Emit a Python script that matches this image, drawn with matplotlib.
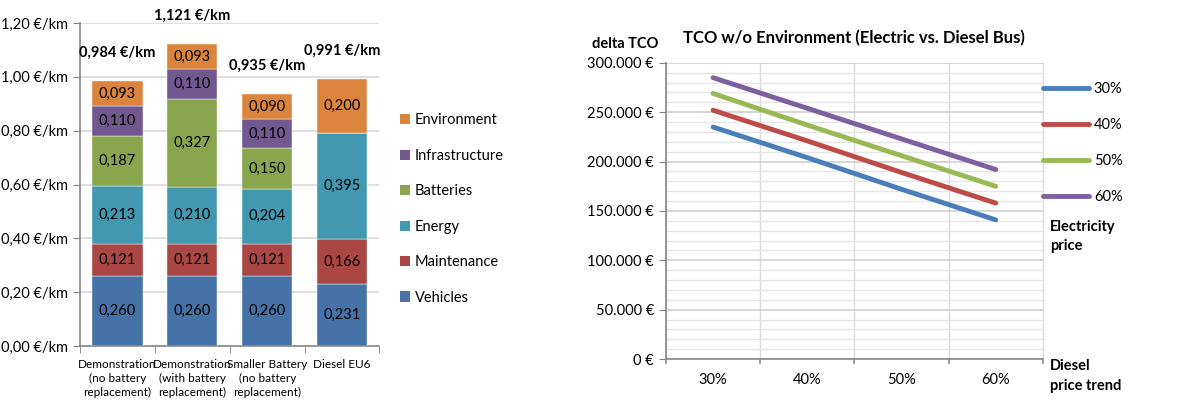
import matplotlib
matplotlib.use("Agg")
import matplotlib.pyplot as plt
import numpy as np
from matplotlib.ticker import MultipleLocator, FuncFormatter
from matplotlib.patches import Patch

plt.rcParams['font.family'] = ['Lato', 'DejaVu Sans']

# left chart data: cost per km by component
scenarios = ["Demonstration\n(no battery\nreplacement)",
             "Demonstration\n(with battery\nreplacement)",
             "Smaller Battery\n(no battery\nreplacement)",
             "Diesel EU6"]
components = ["Vehicles", "Maintenance", "Energy", "Batteries", "Infrastructure", "Environment"]
vehicles = [0.260, 0.260, 0.260, 0.231]
maintenance = [0.121, 0.121, 0.121, 0.166]
energy = [0.213, 0.210, 0.204, 0.395]
batteries = [0.187, 0.327, 0.150, 0.0]
infrastructure = [0.110, 0.110, 0.110, 0.0]
environment = [0.093, 0.093, 0.090, 0.200]
totals = [0.984, 1.121, 0.935, 0.991]

# right chart data: delta TCO by diesel price trend and electricity price
diesel_trend = ["30%", "40%", "50%", "60%"]
elec_labels = ["30%", "40%", "50%", "60%"]
tco_30 = [235000, 204000, 172000, 141000]
tco_40 = [252000, 221000, 189000, 158000]
tco_50 = [269000, 237000, 206000, 175000]
tco_60 = [285000, 254000, 223000, 192000]

bar_colors = ["#4572A7", "#AA4643", "#4198AF", "#89A54E", "#71588F", "#DB843D"]
line_colors = ["#4A7EBB", "#BE4B48", "#98B954", "#7D60A0"]

fig = plt.figure(figsize=(12, 4.03), dpi=100)

# ---------- left: stacked bars ----------
ax1 = fig.add_axes([0.0667, 0.141, 0.2495, 0.802])
series = [vehicles, maintenance, energy, batteries, infrastructure, environment]
x = np.arange(len(scenarios))
bottom = np.zeros(len(scenarios))
for vals, col, name in zip(series, bar_colors, components):
    vals = np.array(vals)
    ax1.bar(x, vals, 0.67, bottom=bottom, color=col, label=name, zorder=3,
            edgecolor="white", linewidth=0.3)
    for xi, b, v in zip(x, bottom, vals):
        if v > 0:
            ax1.text(xi, b + v / 2, ("%.3f" % v).replace(".", ","), ha="center",
                     va="center", fontsize=10.5, zorder=4)
    bottom += vals

for xi, t in zip(x, totals):
    ax1.text(xi, t + 0.105, ("%.3f €/km" % t).replace(".", ","), ha="center",
             va="center", fontsize=10.5, fontweight="bold", clip_on=False)

ax1.set_xlim(-0.5, 3.5)
ax1.set_ylim(0, 1.2)
ax1.yaxis.set_major_locator(MultipleLocator(0.2))
ax1.yaxis.set_major_formatter(FuncFormatter(lambda v, p: ("%.2f €/km" % v).replace(".", ",")))
ax1.grid(axis="y", color="#D9D9D9", linewidth=1.2, zorder=0)
ax1.set_xticks(x)
ax1.set_xticklabels(scenarios, fontsize=8.5, linespacing=1.35)
ax1.set_xticks(np.arange(-0.5, 4, 1), minor=True)
ax1.tick_params(axis="x", which="major", length=0, pad=9)
ax1.tick_params(axis="x", which="minor", length=5, color="#868686")
ax1.tick_params(axis="y", length=5, color="#868686", labelsize=10.5)
for s in ["top", "right"]:
    ax1.spines[s].set_visible(False)
for s in ["left", "bottom"]:
    ax1.spines[s].set_color("#868686")
    ax1.spines[s].set_linewidth(1.2)

handles = [Patch(facecolor=c) for c in bar_colors][::-1]
ax1.legend(handles, components[::-1], loc="upper left", bbox_to_anchor=(1.05, 0.738),
           frameon=False, fontsize=10.5, handlelength=0.7, handleheight=0.7,
           handletextpad=0.3, labelspacing=1.47, borderaxespad=0)

# ---------- right: delta TCO lines ----------
ax2 = fig.add_axes([0.555, 0.109, 0.314, 0.735])
xi = np.arange(len(diesel_trend))
for vals, col, lab in zip([tco_30, tco_40, tco_50, tco_60], line_colors, elec_labels):
    ax2.plot(xi, vals, color=col, linewidth=3.5, solid_capstyle="round", label=lab, zorder=3)

ax2.set_xlim(-0.5, 3.5)
ax2.set_ylim(0, 300000)
ax2.yaxis.set_major_locator(MultipleLocator(50000))
ax2.yaxis.set_minor_locator(MultipleLocator(10000))
ax2.yaxis.set_major_formatter(FuncFormatter(lambda v, p: ("{:,.0f} €".format(v)).replace(",", ".")))
ax2.set_xticks(xi)
ax2.set_xticklabels(diesel_trend)
ax2.set_xticks(np.arange(-0.5, 4, 0.5), minor=True)
ax2.grid(axis="y", which="major", color="#D0D0D0", linewidth=1.2, zorder=0)
ax2.grid(axis="y", which="minor", color="#E6E6E6", linewidth=1.0, zorder=0)
ax2.grid(axis="x", which="minor", color="#DADADA", linewidth=1.0, zorder=0)
ax2.tick_params(axis="x", which="major", length=0, pad=10, labelsize=10.5)
ax2.tick_params(axis="x", which="minor", length=0)
ax2.tick_params(axis="y", which="major", length=5, color="#868686", labelsize=10.5)
ax2.tick_params(axis="y", which="minor", length=0)
for b in np.arange(-0.5, 4, 1):
    ax2.plot([b, b], [0, -0.014], transform=ax2.get_xaxis_transform(), color="#868686",
             linewidth=1.2, clip_on=False)
ax2.spines["top"].set_visible(False)
ax2.spines["right"].set_color("#DADADA")
for s in ["left", "bottom"]:
    ax2.spines[s].set_color("#868686")
    ax2.spines[s].set_linewidth(1.2)

ax2.set_title("TCO w/o Environment (Electric vs. Diesel Bus)", fontsize=12,
              fontweight="bold", pad=14)
ax2.text(-0.02, 1.04, "delta TCO", transform=ax2.transAxes, ha="right", va="bottom",
         fontsize=10.5, fontweight="bold")
ax2.text(1.02, 0.47, "Electricity\nprice", transform=ax2.transAxes, ha="left", va="top",
         fontsize=10.5, fontweight="bold", linespacing=1.5)
ax2.text(1.02, 0.0, "Diesel\nprice trend", transform=ax2.transAxes, ha="left", va="top",
         fontsize=10.5, fontweight="bold", linespacing=1.5)
ax2.legend(loc="upper left", bbox_to_anchor=(1.0, 0.935), frameon=False, fontsize=10.5,
           handlelength=3.2, handletextpad=0.3, labelspacing=1.5, borderaxespad=0,
           borderpad=0)

fig.savefig("out.png", dpi=100)
